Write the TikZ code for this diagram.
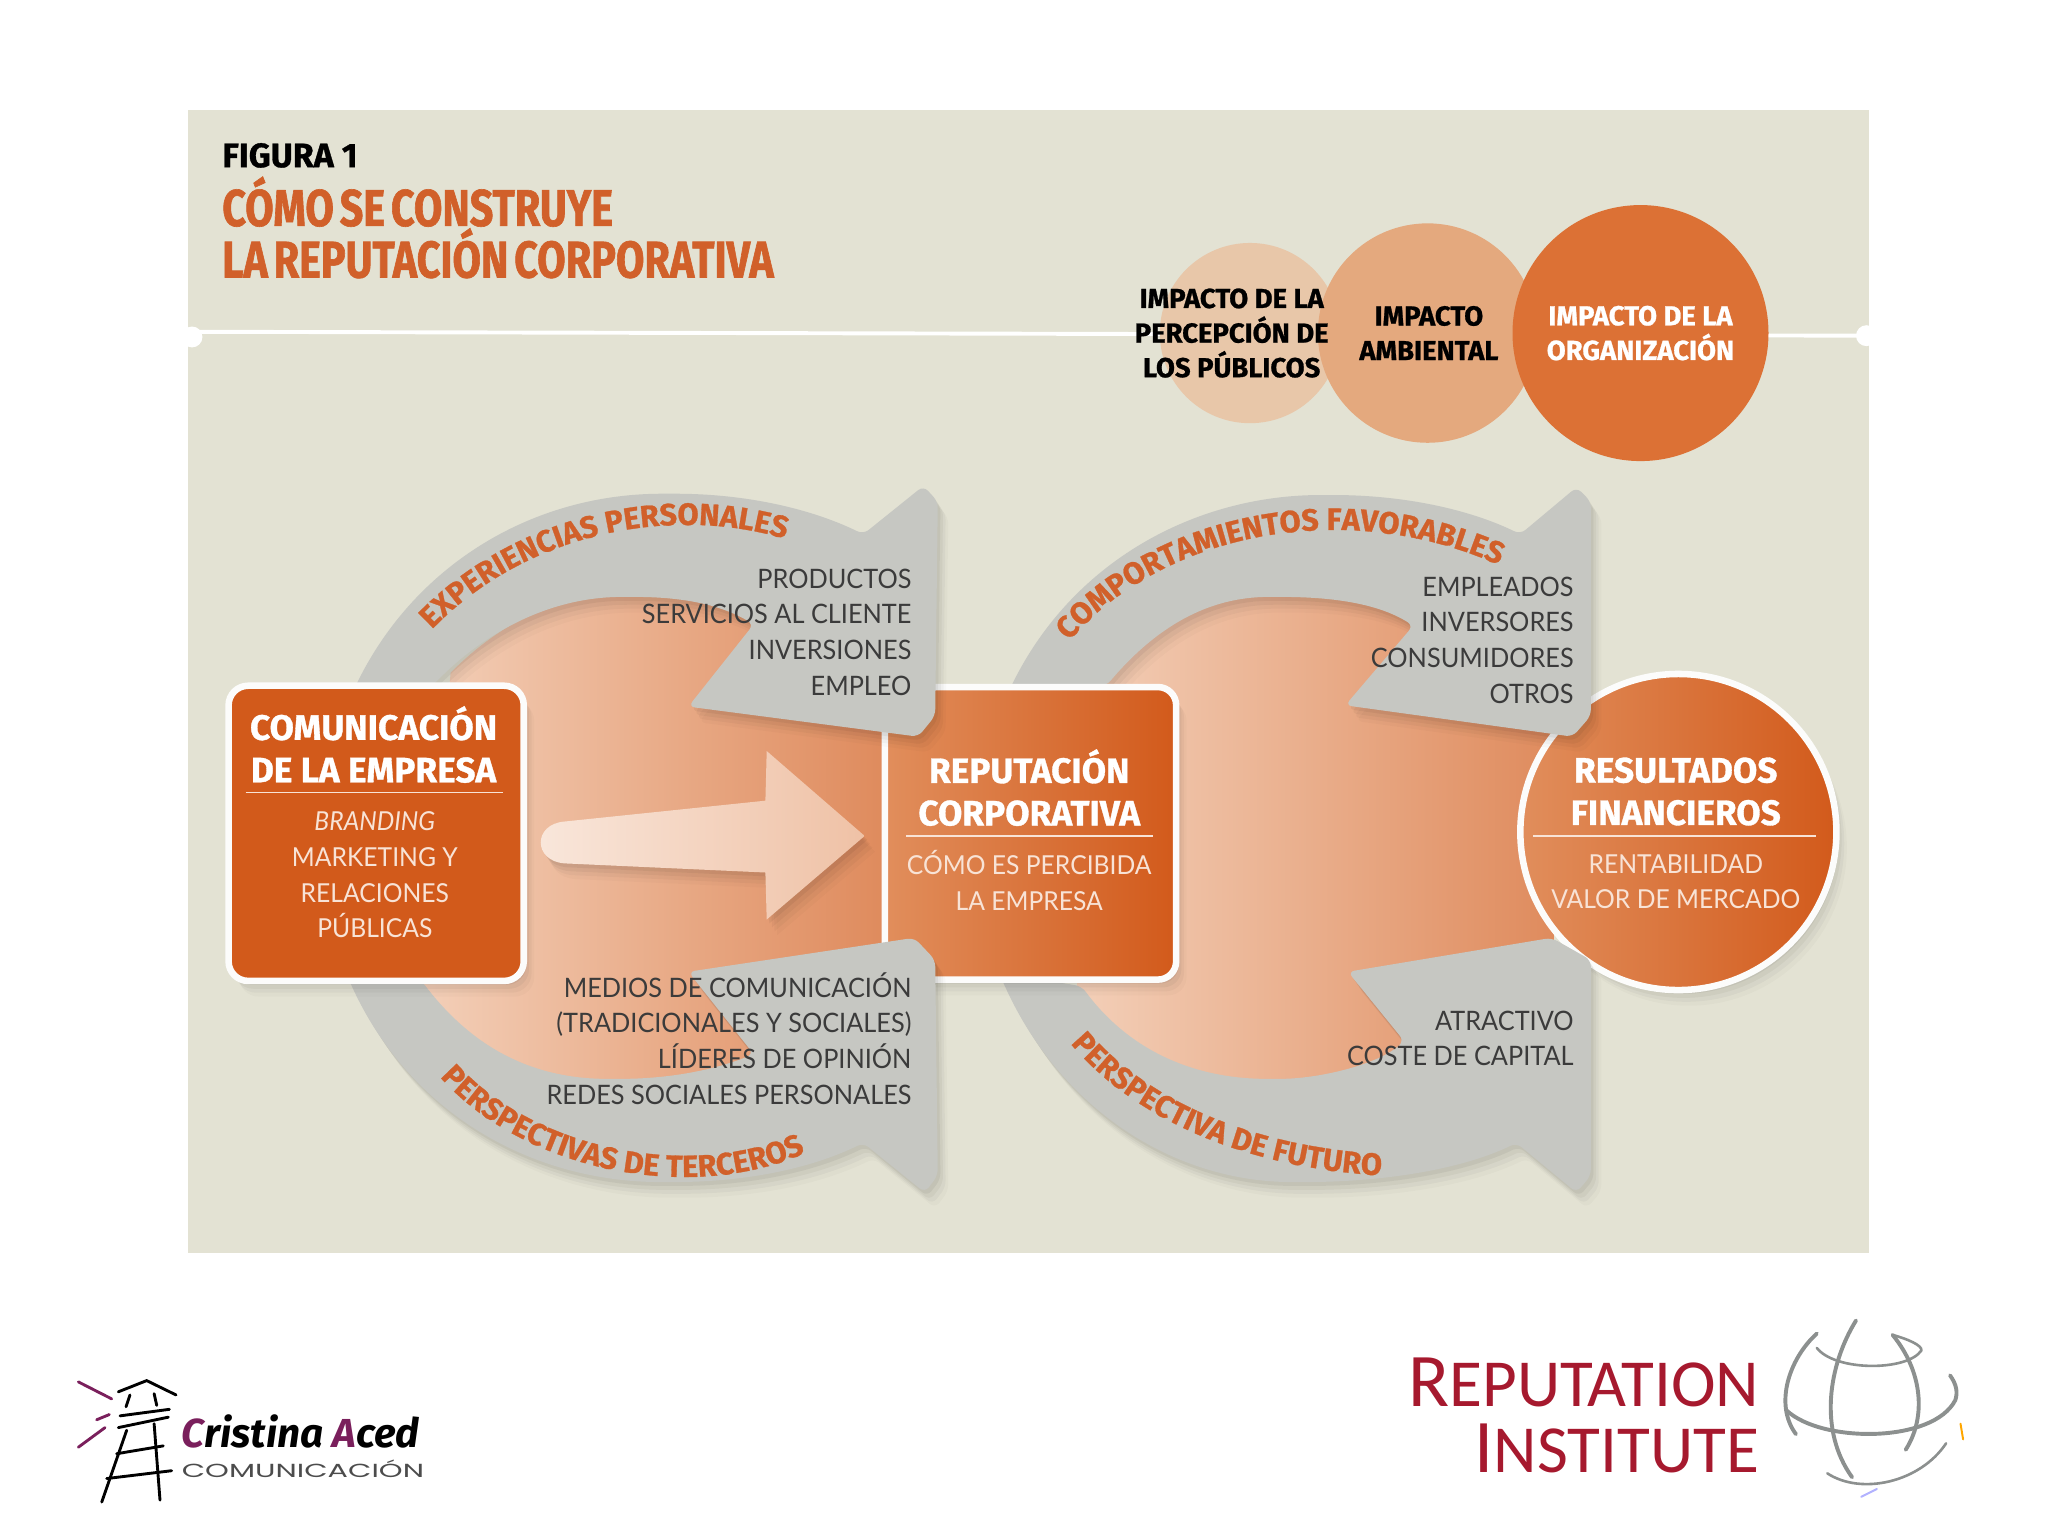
\documentclass[tikz,border=0pt]{standalone}
\usepackage{fontspec}
\usetikzlibrary{decorations.text, shadows}
\setmainfont{Fira Sans}
\newfontfamily\headfont[BoldFeatures={FakeBold=1.2, FakeStretch=0.80, WordSpace=0.6}]{Fira Sans}
\newfontfamily\boxfont[BoldFeatures={FakeBold=0.9}]{Fira Sans}
\newfontfamily\thinfont[FakeStretch=0.945]{Lato}
\newfontfamily\widefont[FakeStretch=1.6]{Poppins}
\newfontfamily\logofont{Carlito}
\definecolor{panelbg}{HTML}{E3E2D3}
\definecolor{arrowgrey}{HTML}{C6C7C2}
\definecolor{orangedark}{HTML}{D25A1B}
\definecolor{orangemid}{HTML}{E18E5C}
\definecolor{titleorange}{HTML}{D1602A}
\definecolor{peachlight}{HTML}{F3CFB8}
\definecolor{peachdark}{HTML}{DF8B5D}
\definecolor{impactone}{HTML}{E8C7A9}
\definecolor{impacttwo}{HTML}{E4A97E}
\definecolor{impactthree}{HTML}{DC7135}
\definecolor{bodywhite}{HTML}{F8E3D6}
\definecolor{listgrey}{HTML}{3B3B3B}
\definecolor{logored}{HTML}{A6192E}
\definecolor{logopurple}{HTML}{7A1F5C}
\definecolor{globegrey}{HTML}{8C908F}
\newcommand{\curvefont}{\boxfont\bfseries\fontsize{23.5}{24}\selectfont\color{titleorange}}
\tikzset{
    softshadow/.style={
        drop shadow={shadow xshift=2pt, shadow yshift=-3pt, opacity=0.05, fill=black},
        drop shadow={shadow xshift=4pt, shadow yshift=-6pt, opacity=0.04, fill=black},
        drop shadow={shadow xshift=6pt, shadow yshift=-9pt, opacity=0.03, fill=black},
        drop shadow={shadow xshift=8pt, shadow yshift=-12pt, opacity=0.02, fill=black}},
    greyarrow/.style={fill=arrowgrey, rounded corners=5pt, softshadow},
    peacharea/.style={left color=peachlight, right color=peachdark},
    impactcircle/.style={circle, inner sep=0pt, minimum size=#1},
    impactlabel/.style={font=\boxfont\bfseries\fontsize{21}{26.5}\selectfont, align=center, inner sep=0pt},
    boxhead/.style={font=\boxfont\bfseries\fontsize{27}{32.5}\selectfont, text=white, align=center, inner sep=0pt},
    boxbody/.style={font=\thinfont\fontsize{20}{27.3}\selectfont, text=bodywhite, align=center, inner sep=0pt},
    listtext/.style={font=\thinfont\fontsize{20.5}{27.3}\selectfont, text=listgrey, align=right, inner sep=0pt, anchor=east},
    boxrule/.style={bodywhite, line width=1pt},
    curvelabel/.style={decoration={text along path, text={|\curvefont|#1}, text align=center}, decorate},
    towerline/.style={line width=2.2pt, line cap=round},
    rayline/.style={logopurple, line width=2.2pt, line cap=round},
    globeline/.style={globegrey, line width=3pt, line cap=round}
}
\begin{document}
\begin{tikzpicture}[x=1pt, y=-1pt]
    \useasboundingbox (0,0) rectangle (1568,1176);
    % Panel and divider
    \fill[panelbg] (144,84) rectangle (1431,959);
    \draw[white, line width=3pt] (146,254) -- (1428,257);
    \fill[white] (147,258) circle (8) (1429,257) circle (8);
    % Title
    \node[anchor=base west, inner sep=0pt, font=\boxfont\bfseries\fontsize{26}{26}\selectfont] (figlabel) at (170,128) {FIGURA 1};
    \node[anchor=north west, inner sep=0pt, align=left, text=titleorange, font=\headfont\bfseries\fontsize{39.5}{39.5}\selectfont] (maintitle) at (170,135) {CÓMO SE CONSTRUYE\\LA REPUTACIÓN CORPORATIVA};
    % Impact circles
    \node[impactcircle=138pt, fill=impactone] (percepcion) at (957,255) {};
    \node[impactcircle=168pt, fill=impacttwo] (ambiental) at (1093,255) {};
    \node[impactcircle=196pt, fill=impactthree] (organizacion) at (1256,255) {};
    \node[impactlabel] (percepcionlabel) at (943,255) {IMPACTO DE LA\\PERCEPCIÓN DE\\LOS PÚBLICOS};
    \node[impactlabel] (ambientallabel) at (1094,255) {IMPACTO\\AMBIENTAL};
    \node[impactlabel, text=white] (organizacionlabel) at (1256,255) {IMPACTO DE LA\\ORGANIZACIÓN};
    % Peach areas behind the arrows
    \path[peacharea] (345,515) .. controls (395,465) and (445,452) .. (490,452) -- (676,452) -- (676,835) -- (480,835) .. controls (420,835) and (365,810) .. (325,755) -- cycle;
    \path[peacharea] (840,515) .. controls (885,470) and (930,452) .. (980,452) -- (1190,452) -- (1190,835) -- (980,835) .. controls (920,830) and (865,805) .. (825,755) -- cycle;
    % Big inner arrow
    \path[left color=white!50!peachlight, right color=peachlight!80!peachdark, softshadow] (432,629) -- (586,613) -- (587,575) -- (662,640) -- (587,704) -- (586,668) -- (432,661) .. controls (408,659) and (408,631) .. (432,629) -- cycle;
    % Results circle
    \node[circle, inner sep=0pt, minimum size=242pt, left color=orangemid, right color=orangedark, draw=white!90!panelbg, line width=5pt, softshadow] (resultados) at (1285,637) {};
    % Right arrows
    \path[greyarrow] (772,530) .. controls (820,430) and (915,379) .. (1016,379) .. controls (1075,379) and (1125,390) .. (1164,409) -- (1207,373) -- (1218,384) -- (1218,548) -- (1204,564) -- (1030,540) -- (1082,479) .. controls (1055,462) and (1020,457) .. (976,457) .. controls (925,457) and (885,480) .. (847,525) -- cycle;
    \path[greyarrow] (765,745) .. controls (810,850) and (900,905) .. (994,905) .. controls (1060,905) and (1120,895) .. (1161,875) -- (1207,913) -- (1218,900) -- (1218,735) -- (1188,718) -- (1032,744) -- (1075,797) .. controls (1055,815) and (1010,826) .. (975,826) .. controls (915,826) and (865,805) .. (828,755) -- cycle;
    % Reputation box
    \node[minimum width=223pt, minimum height=224pt, inner sep=0pt, rounded corners=14pt, left color=orangemid, right color=orangedark, draw=white!90!panelbg, line width=5pt, softshadow] (reputacion) at (789,638) {};
    % Left arrows
    \path[greyarrow] (270,530) .. controls (315,435) and (405,378) .. (512,378) .. controls (570,378) and (620,389) .. (661,409) -- (707,372) -- (718,384) -- (716,548) -- (703,564) -- (527,541) -- (577,478) .. controls (550,462) and (520,457) .. (481,457) .. controls (420,457) and (370,485) .. (331,525) -- cycle;
    \path[greyarrow] (265,745) .. controls (310,850) and (405,905) .. (511,905) .. controls (570,905) and (620,895) .. (661,875) -- (708,913) -- (718,900) -- (716,735) -- (700,718) -- (527,744) -- (577,807) .. controls (545,820) and (510,826) .. (470,826) .. controls (405,826) and (360,800) .. (322,750) -- cycle;
    % Communication box
    \node[minimum width=226pt, minimum height=226pt, inner sep=0pt, rounded corners=15pt, fill=orangedark, draw=white!90!panelbg, line width=5pt, softshadow] (comunicacion) at (288,638) {};
    % Curved labels
    \path[curvelabel={EXPERIENCIAS PERSONALES}] (325,488) .. controls (400,405) and (520,385) .. (609,415);
    \path[curvelabel={COMPORTAMIENTOS FAVORABLES}] (812,499) .. controls (880,410) and (1030,375) .. (1157,437);
    \path[curvelabel={PERSPECTIVAS DE TERCEROS}] (333,820) .. controls (395,895) and (530,925) .. (622,880);
    \path[curvelabel={PERSPECTIVA DE FUTURO}] (818,797) .. controls (870,860) and (960,895) .. (1060,900);
    % Box texts
    \node[boxhead] (comhead) at (286,570) {COMUNICACIÓN\\DE LA EMPRESA};
    \draw[boxrule] (188,607) -- (385,607);
    \node[boxbody] (combody) at (287,670) {\itshape BRANDING\\MARKETING Y\\RELACIONES\\PÚBLICAS};
    \node[boxhead] (rephead) at (788,603) {REPUTACIÓN\\CORPORATIVA};
    \draw[boxrule] (694,640) -- (883,640);
    \node[boxbody] (repbody) at (788,674) {CÓMO ES PERCIBIDA\\LA EMPRESA};
    \node[boxhead] (reshead) at (1283,606) {RESULTADOS\\FINANCIEROS};
    \draw[boxrule] (1174,640) -- (1390,640);
    \node[boxbody] (resbody) at (1283,675) {RENTABILIDAD\\VALOR DE MERCADO};
    % Lists on the arrows
    \node[listtext] (listpersonales) at (698,484) {PRODUCTOS\\SERVICIOS AL CLIENTE\\INVERSIONES\\EMPLEO};
    \node[listtext] (listterceros) at (698,795) {MEDIOS DE COMUNICACIÓN\\(TRADICIONALES Y SOCIALES)\\LÍDERES DE OPINIÓN\\REDES SOCIALES PERSONALES};
    \node[listtext] (listfavorables) at (1205,490) {EMPLEADOS\\INVERSORES\\CONSUMIDORES\\OTROS};
    \node[listtext] (listfuturo) at (1205,795) {ATRACTIVO\\COSTE DE CAPITAL};
    % Tower logo
    \draw[towerline] (90.6,1065.6) -- (112.3,1057) -- (134.8,1068);
    \draw[towerline] (99.5,1068) -- (96.5,1077);
    \draw[towerline] (118,1067) -- (120,1076);
    \draw[towerline] (91.9,1084) -- (129.7,1079);
    \draw[towerline] (90.6,1093) -- (128.9,1085);
    \draw[towerline] (97,1095) -- (77.9,1150);
    \draw[towerline] (118,1090) -- (122.5,1148.5);
    \draw[towerline] (89.3,1113) -- (125,1107);
    \draw[towerline] (81.7,1132) -- (131.4,1126);
    \draw[rayline] (60,1058) -- (85.5,1071);
    \draw[rayline] (74,1087) -- (83.7,1083);
    \draw[rayline] (60,1108) -- (80.4,1093);
    \node[anchor=base west, inner sep=0pt, font=\bfseries\itshape\fontsize{31}{31}\selectfont] (acedname) at (139,1108) {\textcolor{logopurple}{C}ristina \textcolor{logopurple}{A}ced};
    \node[anchor=base west, inner sep=0pt, text=black!70, font=\widefont\fontsize{14.5}{14.5}\selectfont] (acedsub) at (139,1131) {COMUNICACIÓN};
    % Reputation Institute logo
    \node[anchor=base east, inner sep=0pt, text=logored, font=\logofont\fontsize{58}{58}\selectfont] (repinst) at (1347,1077) {R\fontsize{51.5}{52}\selectfont EPUTATION};
    \node[anchor=base east, inner sep=0pt, text=logored, font=\logofont\fontsize{58}{58}\selectfont] (instinst) at (1347,1127) {I\fontsize{51.5}{52}\selectfont NSTITUTE};
    % Globe
    \draw[globeline] (1391,1021) .. controls (1370,1040) and (1358,1075) .. (1375,1098);
    \draw[globeline] (1368,1080) .. controls (1395,1105) and (1480,1105) .. (1497,1072) .. controls (1499,1066) and (1498,1060) .. (1493,1053);
    \draw[globeline, line width=2pt] (1391,1032) .. controls (1405,1050) and (1460,1050) .. (1471,1034) .. controls (1472,1030) and (1460,1025) .. (1449,1022);
    \draw[globeline] (1421,1011) .. controls (1400,1045) and (1392,1095) .. (1418,1131);
    \draw[globeline] (1449,1022) .. controls (1472,1050) and (1475,1085) .. (1459,1110);
    \draw[globeline, line width=2pt] (1399,1128) .. controls (1425,1145) and (1470,1135) .. (1490,1105);
    \draw[line width=1.5pt, line cap=round, orange!70!yellow] (1501,1090) -- (1503,1102);
    \draw[line width=1.5pt, line cap=round, blue!30] (1425,1146) -- (1437,1140);
\end{tikzpicture}
\end{document}
